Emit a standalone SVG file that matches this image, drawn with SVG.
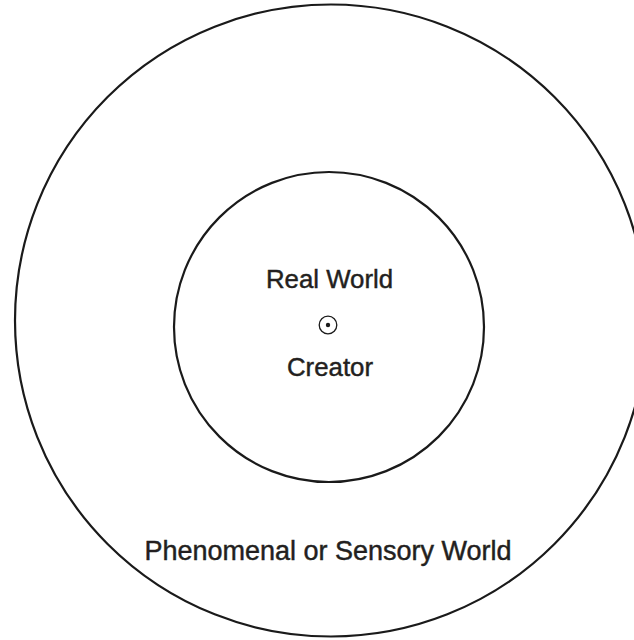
<svg xmlns="http://www.w3.org/2000/svg" width="634" height="640" viewBox="0 0 634 640">
<style>
.ring{fill:none;stroke:#1a1a1a;stroke-width:2.2}
.t{font-family:"Liberation Sans",Arial,sans-serif;fill:#231f20;stroke:#231f20;stroke-width:0.45;text-anchor:middle}
</style>
<rect width="634" height="640" fill="#fff"/>
<g id="outer">
<circle class="ring" cx="331" cy="320.5" r="316"/>
<text class="t" x="328" y="560" font-size="27">Phenomenal or Sensory World</text>
</g>
<g id="inner">
<circle class="ring" cx="329" cy="327" r="155"/>
<text class="t" x="329.5" y="287.5" font-size="25.8">Real World</text>
</g>
<g id="creator">
<circle cx="328" cy="325" r="8.8" fill="none" stroke="#1a1a1a" stroke-width="1.3"/>
<circle cx="328" cy="325" r="2.2" fill="#1a1a1a"/>
<text class="t" x="330" y="376" font-size="25.8">Creator</text>
</g>
<g id="connectors"/>
</svg>
